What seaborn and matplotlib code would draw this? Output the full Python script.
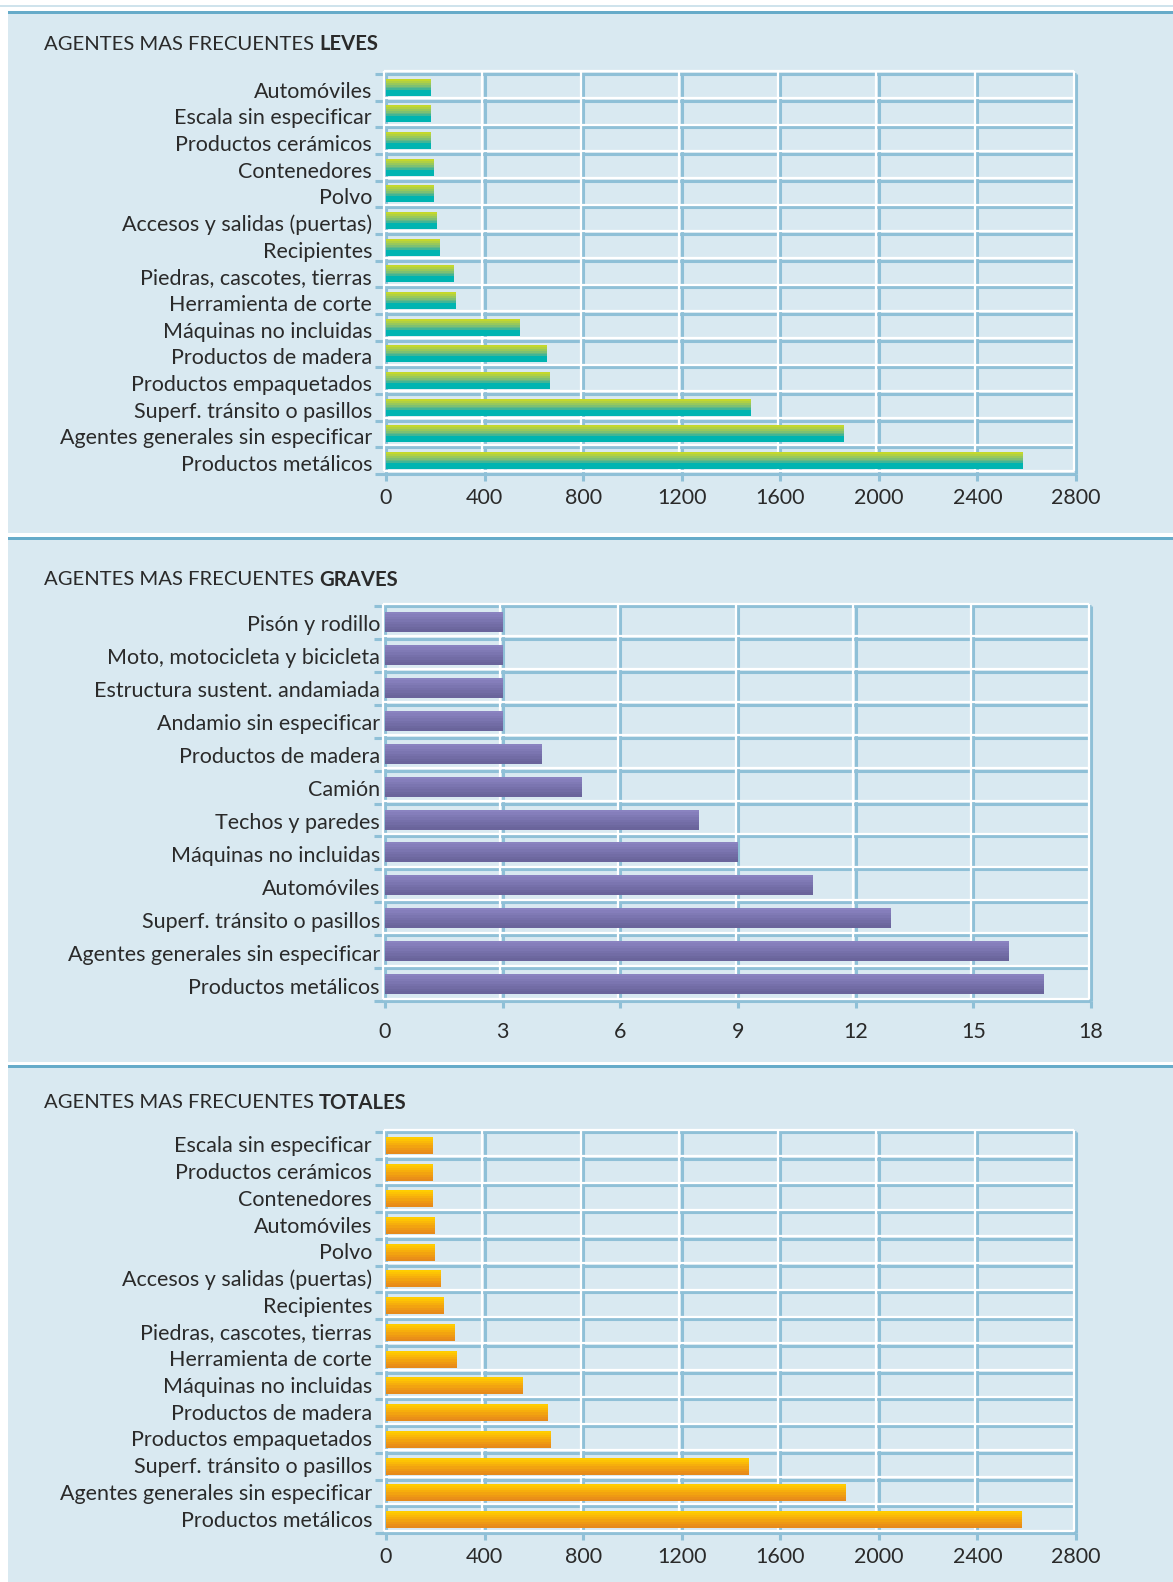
import numpy as np
import pandas as pd
import matplotlib
matplotlib.use("Agg")
import matplotlib.pyplot as plt
import matplotlib.transforms as mtransforms
from matplotlib.patches import Rectangle
from matplotlib.colors import to_rgb
import seaborn as sns

# ---------------- data ----------------
leves_cats = ["Automóviles", "Escala sin especificar", "Productos cerámicos", "Contenedores",
              "Polvo", "Accesos y salidas (puertas)", "Recipientes", "Piedras, cascotes, tierras",
              "Herramienta de corte", "Máquinas no incluidas", "Productos de madera",
              "Productos empaquetados", "Superf. tránsito o pasillos",
              "Agentes generales sin especificar", "Productos metálicos"]
leves_vals = [179, 179, 179, 191, 191, 203, 219, 272, 284, 540, 650, 662, 1478, 1857, 2582]

graves_cats = ["Pisón y rodillo", "Moto, motocicleta y bicicleta", "Estructura sustent. andamiada",
               "Andamio sin especificar", "Productos de madera", "Camión", "Techos y paredes",
               "Máquinas no incluidas", "Automóviles", "Superf. tránsito o pasillos",
               "Agentes generales sin especificar", "Productos metálicos"]
graves_vals = [3, 3, 3, 3, 4, 5, 8, 9, 10.9, 12.9, 15.9, 16.8]

totales_cats = ["Escala sin especificar", "Productos cerámicos", "Contenedores", "Automóviles",
                "Polvo", "Accesos y salidas (puertas)", "Recipientes", "Piedras, cascotes, tierras",
                "Herramienta de corte", "Máquinas no incluidas", "Productos de madera",
                "Productos empaquetados", "Superf. tránsito o pasillos",
                "Agentes generales sin especificar", "Productos metálicos"]
totales_vals = [189, 189, 189, 197, 197, 221, 233, 278, 286, 554, 656, 667, 1472, 1866, 2580]

ticks_count = [0, 400, 800, 1200, 1600, 2000, 2400, 2800]
ticks_graves = [0, 3, 6, 9, 12, 15, 18]

titles = [("AGENTES MAS FRECUENTES", "LEVES"),
          ("AGENTES MAS FRECUENTES", "GRAVES"),
          ("AGENTES MAS FRECUENTES", "TOTALES")]

# ---------------- style ----------------
W, H = 1173, 1582
BG = "#d9e9f1"
TOPBLUE = "#66abc9"
GRIDBLUE = "#8fc0d7"
TXT = "#2a2a2a"
FONT = ["Lato", "DejaVu Sans"]
LBL = 15.5

leves_grad = ["#c4d82c", "#b0d043", "#98c85c", "#7fc072", "#62b985", "#42b596",
              "#00b4b1", "#00b4b1", "#00b4b1"]
graves_grad = ["#8a83c0", "#857ebb", "#807ab5", "#7b75b0", "#7670aa", "#726ca5",
               "#6d689f", "#6a649b"]
totales_grad = ["#ffcd00", "#fdc304", "#fab908", "#f6ae0c", "#f2a310", "#ee9914",
                "#ea9018", "#e78a1a"]

sns.set_theme(style="white")
plt.rcParams["font.family"] = FONT

fig = plt.figure(figsize=(W / 100, H / 100), dpi=100, facecolor="white")


def fy(px):
    return 1 - px / H


def frect(x0, top, x1, bottom, color):
    fig.patches.append(Rectangle((x0 / W, fy(bottom)), (x1 - x0) / W, (bottom - top) / H,
                                 transform=fig.transFigure, facecolor=color,
                                 edgecolor="none", zorder=-5))


# page background strips
frect(0, 5, W, 6.5, "#cfe3ec")
frect(8, 11, W, 14, TOPBLUE)
frect(8, 14, W, 533, BG)
frect(8, 537, W, 540, TOPBLUE)
frect(8, 540, W, 1062, BG)
frect(8, 1065, W, 1068, TOPBLUE)
frect(8, 1068, W, H, BG)


def title(ypx, t1, t2):
    x0 = 44 / W
    t = fig.text(x0, fy(ypx), t1, fontsize=14.6, color=TXT, va="center", ha="left",
                 family=FONT)
    r = fig.canvas.get_renderer()
    bb = t.get_window_extent(r)
    fig.text((bb.x1 + 5) / W, fy(ypx), t2, fontsize=14.6, color=TXT, va="center",
             ha="left", weight="bold", family=FONT)


def panel(left, right, top, bottom, cats, vals, ticks, grad, bar_w, label_pad, xpad, yshift):
    ax = fig.add_axes([left / W, fy(bottom), (right - left) / W, (bottom - top) / H])
    df = pd.DataFrame({"cat": cats, "val": vals})
    sns.barplot(data=df, x="val", y="cat", orient="h", ax=ax, width=bar_w,
                color=grad[-1], saturation=1, edgecolor="none", zorder=3)
    n = len(cats)
    xmax = ticks[-1]
    ax.set_xlim(0, xmax)
    ax.set_ylim(n - 0.5, -0.5)
    ax.set_facecolor("none")
    for s in ax.spines.values():
        s.set_visible(False)
    ax.grid(False)

    # gradient fill of bars
    gimg = np.array([to_rgb(c) for c in grad]).reshape(len(grad), 1, 3)
    for p in list(ax.patches):
        x0, y0, w, h = p.get_x(), p.get_y(), p.get_width(), p.get_height()
        ax.imshow(gimg, extent=(x0, x0 + w, y0 + h, y0), origin="upper",
                  aspect="auto", interpolation="nearest", zorder=4)
    ax.set_xlim(0, xmax)
    ax.set_ylim(n - 0.5, -0.5)

    off_w = mtransforms.offset_copy(ax.transData, fig=fig, x=-2.5, y=2.5, units="dots")
    bounds = np.arange(n + 1) - 0.5
    for b in bounds:
        ax.plot([0, xmax], [b, b], color=GRIDBLUE, lw=2.2, zorder=1, clip_on=False,
                solid_capstyle="butt")
        ax.plot([0, xmax], [b, b], color="white", lw=1.6, zorder=1.5, clip_on=False,
                solid_capstyle="butt", transform=off_w)
    for t in ticks:
        ax.plot([t, t], [-0.5, n - 0.5], color=GRIDBLUE, lw=2.2, zorder=1, clip_on=False,
                solid_capstyle="butt")
        ax.plot([t, t], [-0.5, n - 0.5], color="white", lw=1.6, zorder=1.5, clip_on=False,
                solid_capstyle="butt", transform=off_w)

    ax.set_xticks(ticks)
    ax.set_xticklabels([str(t) for t in ticks])
    ax.set_yticks(np.arange(n))
    ax.set_yticklabels(cats)
    ax.set_yticks(bounds, minor=True)
    ax.tick_params(axis="y", which="major", length=0, pad=label_pad, labelsize=LBL,
                   labelcolor=TXT)
    ax.tick_params(axis="y", which="minor", length=8, width=2.2, color=GRIDBLUE,
                   direction="out", left=True)
    ax.tick_params(axis="x", which="major", length=5, width=2.2, color=GRIDBLUE,
                   direction="out", bottom=True, pad=xpad, labelsize=LBL, labelcolor=TXT)
    shift = mtransforms.ScaledTranslation(0, -yshift / 100, fig.dpi_scale_trans)
    for lab in ax.get_yticklabels():
        lab.set_transform(lab.get_transform() + shift)
    ax.set_xlabel("")
    ax.set_ylabel("")
    return ax


title(44, *titles[0])
panel(386, 1076, 74, 474, leves_cats, leves_vals, ticks_count, leves_grad, 0.63, 10, 5, 2.5)

title(580, *titles[1])
panel(385, 1091, 606, 1001, graves_cats, graves_vals, ticks_graves, graves_grad, 0.58, 3.6, 10, 1)

title(1103, *titles[2])
panel(386, 1076, 1132, 1533, totales_cats, totales_vals, ticks_count, totales_grad, 0.63, 10, 5, -1)

fig.savefig("out.png", dpi=100, facecolor="white")
